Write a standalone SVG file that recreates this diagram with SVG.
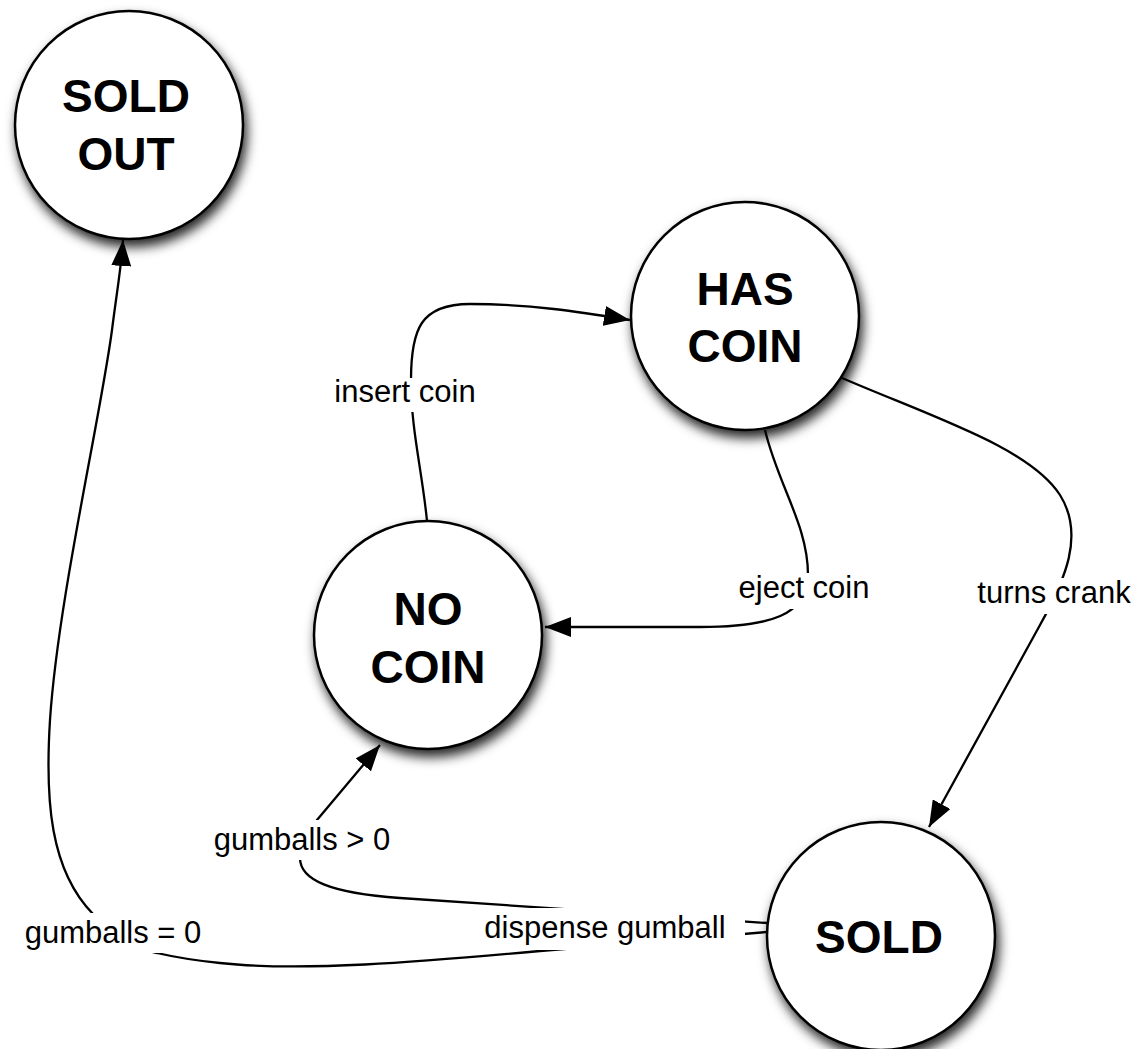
<svg xmlns="http://www.w3.org/2000/svg" width="1141" height="1049" viewBox="0 0 1141 1049">
<style>
.node circle{fill:#fff;stroke:#000;stroke-width:2.5;filter:url(#sh)}
.node text{font-family:"Liberation Sans",Arial,sans-serif;font-weight:bold;font-size:46px;text-anchor:middle;fill:#000}
.edge{fill:none;stroke:#000;stroke-width:2.3;marker-end:url(#arr)}
.lbl rect{fill:#fff}
.lbl text{font-family:"Liberation Sans",Arial,sans-serif;font-size:31px;text-anchor:middle;fill:#000}
</style>
<defs>
<filter id="sh" x="-30%" y="-30%" width="160%" height="170%">
<feDropShadow dx="3" dy="7" stdDeviation="6" flood-color="#000" flood-opacity="0.85"/>
</filter>
<marker id="arr" viewBox="0 0 26 20" refX="26" refY="10" markerWidth="26" markerHeight="20" markerUnits="userSpaceOnUse" orient="auto">
<path d="M0,0 L26,10 L0,20 z" fill="#000"/>
</marker>
</defs>
<rect width="1141" height="1049" fill="#fff"/>
<g id="connectors">
<path class="edge" d="M427 521 C422 470 411 430 411 380 C411 330 420 304 470 304 C530 304 580 312 630 320"/>
<path class="edge" d="M765 430 C778 485 808 525 808 575 C808 615 770 627 700 627 L545 627"/>
<path class="edge" d="M842 378 C935 418 1030 448 1060 495 C1085 535 1065 580 1040 625 L929 827"/>
<path class="edge" d="M767 923 C650 915 480 903 400 898 C330 893 300 880 300 858 C300 845 308 832 317 820 L380 745"/>
<path class="edge" d="M767 932 C700 938 600 946 540 951 C420 962 300 972 220 963 C190 960 170 956 157 953 C130 948 105 930 93 914 C50 870 45 800 50 720 C58 600 100 420 112 330 C117 290 121 270 123 240"/>
<g class="lbl"><rect x="328" y="378" width="154" height="34"/><text x="405" y="402">insert coin</text></g>
<g class="lbl"><rect x="732" y="573" width="143" height="36"/><text x="804" y="598">eject coin</text></g>
<g class="lbl"><rect x="970" y="578" width="168" height="36"/><text x="1054" y="603">turns crank</text></g>
<g class="lbl"><rect x="207" y="820" width="191" height="40"/><text x="302" y="850">gumballs &gt; 0</text></g>
<g class="lbl"><rect x="18" y="913" width="190" height="40"/><text x="113" y="943">gumballs = 0</text></g>
<g class="lbl"><rect x="475" y="908" width="270" height="42"/><text x="605" y="938">dispense gumball</text></g>
</g>
<g id="node-sold-out" class="node"><circle cx="129" cy="125" r="114"/><text x="126" y="112">SOLD</text><text x="126" y="170">OUT</text></g>
<g id="node-has-coin" class="node"><circle cx="745" cy="316" r="114"/><text x="745" y="305">HAS</text><text x="745" y="362">COIN</text></g>
<g id="node-no-coin" class="node"><circle cx="428" cy="635" r="114"/><text x="428" y="625">NO</text><text x="428" y="683">COIN</text></g>
<g id="node-sold" class="node"><circle cx="881" cy="936" r="114"/><text x="879" y="953">SOLD</text></g>
</svg>
